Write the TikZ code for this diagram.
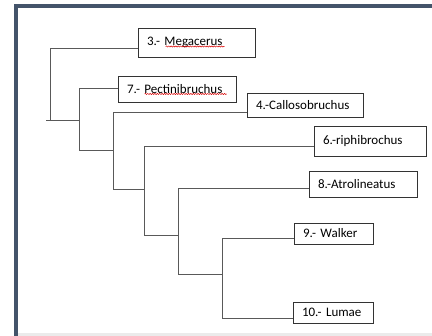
\documentclass[tikz,border=0pt]{standalone}
\usepackage{fontspec}
\setmainfont{Carlito}
\usepackage{xcolor}
\usetikzlibrary{positioning, calc, decorations.pathmorphing}

\definecolor{frameblue}{HTML}{44546A}

\begin{document}
\begin{tikzpicture}[
    x=1pt,
    y=-1pt,
    taxon/.style={
        rectangle,
        draw=black!80,
        line width=0.8pt,
        inner xsep=9pt,
        inner ysep=0pt,
        align=left,
        font=\fontsize{13}{15}\selectfont
    },
    branch/.style={
        draw=black!65,
        line width=0.8pt
    },
    typo/.style={
        draw=red!85!black,
        line width=0.5pt,
        decorate,
        decoration={snake, amplitude=0.6pt, segment length=2.4pt}
    },
    frameline/.style={
        draw=frameblue,
        line width=4pt
    }
]

\useasboundingbox (0,0) rectangle (432,336);

% Frame
\fill [white] (0,0) rectangle (432,336);
\fill [black!8] (18,333) rectangle (432,336);
\draw [frameline] (16,336) -- (16,6.5) -- (432,6.5);

% Nodes
\node [taxon, text width=99pt, minimum height=29pt] (mega) at (196.5,42.5) {3.- Megacerus};
\node [taxon, text width=100pt, minimum height=26pt] (pect) at (177,89) {7.- Pectinibruchus};
\node [taxon, text width=98pt, minimum height=24pt] (callo) at (305,105) {4.-Callosobruchus};
\node [taxon, text width=94pt, minimum height=30pt] (riph) at (370,141) {6.-riphibrochus};
\node [taxon, text width=90pt, minimum height=26pt] (atro) at (363,184) {8.-Atrolineatus};
\node [taxon, text width=61pt, minimum height=21pt] (walk) at (333.5,233.5) {9.- Walker};
\node [taxon, text width=62pt, minimum height=21pt] (lum) at (333,312.5) {10.- Lumae};

% Junctions
\coordinate (root) at (46,120);
\coordinate (b1) at (50,120);
\coordinate (b2) at (79,150);
\coordinate (b3) at (113,189);
\coordinate (b4) at (144,235);
\coordinate (b5) at (178,274);
\coordinate (b6) at (222,318);

% Paths
\draw [branch] (root) -- (b1);
\draw [branch] ([yshift=-5.5pt]mega.west) -| (b1) -- (b2 |- b1);
\draw [branch] ([yshift=1pt]pect.west) -| (b2) -- (b3 |- b2);
\draw [branch] ([yshift=-7pt]callo.west) -| (b3) -- (b4 |- b3);
\draw [branch] ([yshift=-5pt]riph.west) -| (b4) -- (b5 |- b4);
\draw [branch] ([yshift=-4pt]atro.west) -| (b5) -- (b6 |- b5);
\draw [branch] ([yshift=-4.5pt]walk.west) -| (b6) -- ([yshift=-5.5pt]lum.west);

% Spelling marks
\draw [typo] ($(mega.west)+(28,4)$) -- ++(59,0);
\draw [typo] ($(pect.west)+(27,5)$) -- ++(82,0);

\end{tikzpicture}
\end{document}
